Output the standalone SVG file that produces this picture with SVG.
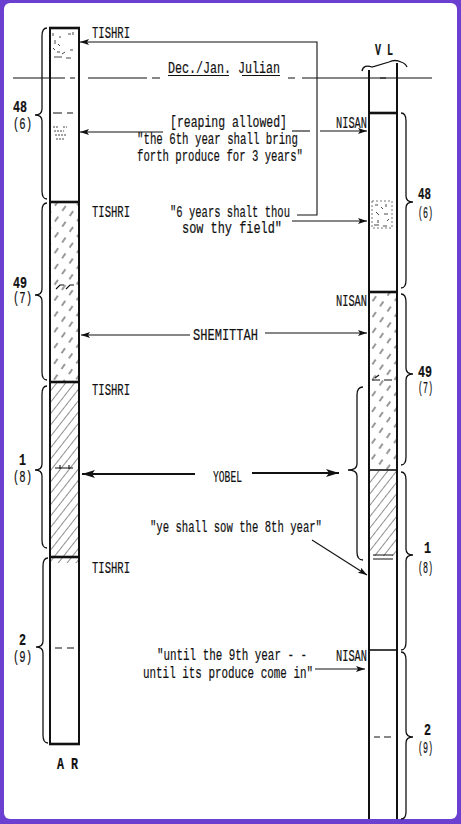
<svg xmlns="http://www.w3.org/2000/svg" width="461" height="824" viewBox="0 0 461 824">
<style>
  .t{font-family:"Liberation Mono","DejaVu Sans Mono",monospace;font-size:16px;fill:#111;stroke:#111;stroke-width:0.2}
  .b{font-weight:bold}
  .col{fill:none;stroke:#111;stroke-width:2}
  .div{stroke:#111;stroke-width:2.6}
  .divm{stroke:#111;stroke-width:1.6}
  .br{fill:none;stroke:#111;stroke-width:1.3}
  .ln{fill:none;stroke:#111;stroke-width:1.1}
  .bold{fill:none;stroke:#111;stroke-width:2}
  .sp{stroke:#333;stroke-width:0.9;fill:none}
</style>
<defs>
  <pattern id="hatch" patternUnits="userSpaceOnUse" width="7" height="10" patternTransform="rotate(38)">
    <line x1="0" y1="0" x2="0" y2="10" stroke="#222" stroke-width="1"/>
  </pattern>
  <pattern id="dhatch" patternUnits="userSpaceOnUse" width="9" height="13" patternTransform="rotate(35)">
    <line x1="1" y1="1" x2="1" y2="7" stroke="#333" stroke-width="1"/>
  </pattern>
  <marker id="ah" markerWidth="9" markerHeight="6" refX="9" refY="3" orient="auto" markerUnits="userSpaceOnUse">
    <path d="M0,0 L9,3 L0,6 L2,3 z" fill="#111"/>
  </marker>
  <marker id="ahb" markerWidth="13" markerHeight="8" refX="13" refY="4" orient="auto" markerUnits="userSpaceOnUse">
    <path d="M0,0 L13,4 L0,8 L3,4 z" fill="#111"/>
  </marker>
</defs>

<rect x="0" y="0" width="461" height="824" fill="#6b3fcf"/>
<rect x="4" y="3" width="453" height="816" rx="6" fill="#ffffff"/>

<!-- Julian Dec/Jan line -->
<g id="julian-line">
  <path class="ln" d="M13,78 H65 M70,78 H75 M88,78 H147 M152,78 H160 M288,78 H295 M302,78 H432"/>
  <text class="t" x="168" y="73" textLength="112" lengthAdjust="spacingAndGlyphs">Dec./Jan. Julian</text>
  <path class="ln" d="M168,75.5 H229 M242,75.5 H280"/>
</g>

<!-- AR column -->
<g id="ar-column">
  <rect x="50" y="203" width="28" height="179" fill="url(#dhatch)"/>
  <rect x="50" y="383" width="28" height="173" fill="url(#hatch)"/>
  <rect x="50" y="557" width="28" height="6" fill="url(#hatch)"/>
  <g class="sp">
    <path d="M53,33 v3 M55,40 v4 M53,48 l2,2 M57,52 h3 M54,57 h8 M62,54 l3,-2 M68,34 h3 M73,32 v3 M66,58 h5 M58,44 l2,2 M70,50 h3 M60,36 v2"/>
    <path d="M53,127 h6 M54,131 h10 M55,135 h12 M56,139 h8 M63,127 h4" stroke-dasharray="2 1"/>
  </g>
  <path class="ln" d="M53,113 H62 M67,113 H73"/>
  <path class="ln" d="M56,289 l4,-4 h4 M66,289 l4,-4 h4"/>
  <path class="ln" d="M55,468 H73 M60,465 v4 M69,465 v4"/>
  <path class="ln" d="M55,648 H62 M67,648 H74"/>
  <rect class="col" x="50" y="28" width="29" height="716"/>
  <line class="div" x1="49" y1="28" x2="80" y2="28"/>
  <line class="div" x1="49" y1="202" x2="80" y2="202"/>
  <line class="div" x1="49" y1="382" x2="80" y2="382"/>
  <line class="div" x1="49" y1="557" x2="80" y2="557"/>
  <line class="div" x1="49" y1="744" x2="80" y2="744"/>
  <text class="t b" x="57" y="769" textLength="21" lengthAdjust="spacingAndGlyphs">A R</text>
</g>

<!-- VL column -->
<g id="vl-column">
  <rect x="370" y="293" width="26" height="177" fill="url(#dhatch)"/>
  <rect x="370" y="471" width="26" height="85" fill="url(#hatch)"/>
  <rect x="372" y="201" width="20" height="27" fill="none" stroke="#555" stroke-width="0.8" stroke-dasharray="2 2"/>
  <g class="sp">
    <path d="M375,205 h3 M381,207 l2,2 M386,204 v3 M376,212 l3,3 M384,214 h4 M378,220 v3 M387,221 l2,-2 M374,225 h5 M383,226 h4"/>
  </g>
  <path class="ln" d="M372,380 H380 M384,380 H392 M375,378 l4,-3"/>
  <path class="ln" d="M373,555 H393 M373,559 H393"/>
  <path class="ln" d="M374,737 H380 M384,737 H391"/>
  <path class="ln" d="M380,78 h6"/>
  <line class="col" x1="369" y1="70" x2="369" y2="819"/>
  <line class="col" x1="397" y1="63" x2="397" y2="819"/>
  <line class="div" x1="368" y1="113" x2="398" y2="113"/>
  <line class="div" x1="368" y1="292" x2="398" y2="292"/>
  <line class="divm" x1="368" y1="470" x2="398" y2="470"/>
  <line class="divm" x1="368" y1="650" x2="398" y2="650"/>
  <path class="br" stroke-width="1.6" d="M362,71 C363,66 367,65 372,67 L389,62 C393,60 397,60 401,62 C404,63 406,64 407,67"/>
  <text class="t b" x="375" y="55" textLength="18" lengthAdjust="spacingAndGlyphs">V L</text>
</g>

<!-- Left braces and numbers -->
<g id="ar-year-48">
  <path class="br" d="M47,28 Q42,28 42,36 L42,109 Q42,115 35,115 Q42,115 42,121 L42,191 Q42,199 47,199"/>
  <text class="t b" x="13" y="112" textLength="14" lengthAdjust="spacingAndGlyphs">48</text>
  <text class="t" x="13" y="129" textLength="19" lengthAdjust="spacingAndGlyphs">(6)</text>
</g>
<g id="ar-year-49">
  <path class="br" d="M47,203 Q42,203 42,211 L42,289 Q42,295 35,295 Q42,295 42,301 L42,372 Q42,380 47,380"/>
  <text class="t b" x="13" y="288" textLength="14" lengthAdjust="spacingAndGlyphs">49</text>
  <text class="t" x="13" y="303" textLength="19" lengthAdjust="spacingAndGlyphs">(7)</text>
</g>
<g id="ar-year-1">
  <path class="br" d="M47,386 Q42,386 42,394 L42,464 Q42,470 35,470 Q42,470 42,476 L42,540 Q42,548 47,548"/>
  <text class="t b" x="19" y="465" textLength="7" lengthAdjust="spacingAndGlyphs">1</text>
  <text class="t" x="13" y="482" textLength="19" lengthAdjust="spacingAndGlyphs">(8)</text>
</g>
<g id="ar-year-2">
  <path class="br" d="M48,558 Q43,558 43,566 L43,641 Q43,647 36,647 Q43,647 43,653 L43,735 Q43,743 48,743"/>
  <text class="t b" x="19" y="645" textLength="7" lengthAdjust="spacingAndGlyphs">2</text>
  <text class="t" x="13" y="662" textLength="19" lengthAdjust="spacingAndGlyphs">(9)</text>
</g>

<!-- Right braces and numbers -->
<g id="vl-year-48">
  <path class="br" d="M401,113 Q406,113 406,121 L406,196 Q406,202 413,202 Q406,202 406,208 L406,280 Q406,288 401,288"/>
  <text class="t b" x="418" y="199" textLength="13" lengthAdjust="spacingAndGlyphs">48</text>
  <text class="t" x="418" y="218" textLength="15" lengthAdjust="spacingAndGlyphs">(6)</text>
</g>
<g id="vl-year-49">
  <path class="br" d="M401,294 Q406,294 406,302 L406,368 Q406,374 413,374 Q406,374 406,380 L406,457 Q406,465 401,465"/>
  <text class="t b" x="418" y="377" textLength="14" lengthAdjust="spacingAndGlyphs">49</text>
  <text class="t" x="418" y="393" textLength="15" lengthAdjust="spacingAndGlyphs">(7)</text>
</g>
<g id="vl-year-1">
  <path class="br" d="M401,472 Q406,472 406,480 L406,549 Q406,555 413,555 Q406,555 406,561 L406,642 Q406,650 401,650"/>
  <text class="t b" x="424" y="553" textLength="7" lengthAdjust="spacingAndGlyphs">1</text>
  <text class="t" x="418" y="573" textLength="15" lengthAdjust="spacingAndGlyphs">(8)</text>
</g>
<g id="vl-year-2">
  <path class="br" d="M401,652 Q406,652 406,660 L406,731 Q406,737 413,737 Q406,737 406,743 L406,812 Q406,819 401,819"/>
  <text class="t b" x="424" y="735" textLength="7" lengthAdjust="spacingAndGlyphs">2</text>
  <text class="t" x="418" y="753" textLength="15" lengthAdjust="spacingAndGlyphs">(9)</text>
</g>
<g id="yobel-brace">
  <path class="br" stroke-width="2" d="M363,387 Q357,387 357,395 L357,464 Q357,470 348,470 Q357,470 357,476 L357,552 Q357,560 363,560"/>
</g>

<!-- Labels -->
<g id="labels">
  <text class="t" x="92" y="38" textLength="38" lengthAdjust="spacingAndGlyphs">TISHRI</text>
  <text class="t" x="92" y="217" textLength="38" lengthAdjust="spacingAndGlyphs">TISHRI</text>
  <text class="t" x="92" y="395" textLength="38" lengthAdjust="spacingAndGlyphs">TISHRI</text>
  <text class="t" x="92" y="573" textLength="38" lengthAdjust="spacingAndGlyphs">TISHRI</text>
  <text class="t" x="336" y="128" textLength="31" lengthAdjust="spacingAndGlyphs">NISAN</text>
  <text class="t" x="336" y="306" textLength="31" lengthAdjust="spacingAndGlyphs">NISAN</text>
  <text class="t" x="336" y="661" textLength="31" lengthAdjust="spacingAndGlyphs">NISAN</text>
  <text class="t" x="170" y="127" textLength="117" lengthAdjust="spacingAndGlyphs">[reaping allowed]</text>
  <text class="t" x="137" y="144" textLength="161" lengthAdjust="spacingAndGlyphs">"the 6th year shall bring</text>
  <text class="t" x="137" y="161" textLength="166" lengthAdjust="spacingAndGlyphs">forth produce for 3 years"</text>
  <text class="t" x="170" y="217" textLength="120" lengthAdjust="spacingAndGlyphs">"6 years shalt thou</text>
  <text class="t" x="182" y="233" textLength="100" lengthAdjust="spacingAndGlyphs">sow thy field"</text>
  <text class="t" x="193" y="340" textLength="65" lengthAdjust="spacingAndGlyphs">SHEMITTAH</text>
  <text class="t" x="213" y="482" textLength="29" lengthAdjust="spacingAndGlyphs">YOBEL</text>
  <text class="t" x="150" y="532" textLength="172" lengthAdjust="spacingAndGlyphs">"ye shall sow the 8th year"</text>
  <text class="t" x="157" y="660" textLength="150" lengthAdjust="spacingAndGlyphs">"until the 9th year - -</text>
  <text class="t" x="143" y="678" textLength="170" lengthAdjust="spacingAndGlyphs">until its produce come in"</text>
</g>

<!-- Connectors -->
<g id="connectors">
  <path class="ln" d="M297,215 H317 V42 H80" marker-end="url(#ah)"/>
  <path class="ln" d="M163,132 H80" marker-end="url(#ah)"/>
  <path class="ln" d="M292,131 H310"/>
  <path class="ln" d="M320,131 H367" marker-end="url(#ah)"/>
  <path class="ln" d="M292,221 H367" marker-end="url(#ah)"/>
  <path class="ln" d="M190,335 H81" marker-end="url(#ah)"/>
  <path class="ln" d="M265,333 H367" marker-end="url(#ah)"/>
  <path class="bold" d="M195,474 H82" marker-end="url(#ahb)"/>
  <path class="bold" d="M252,473 H339" marker-end="url(#ahb)"/>
  <path class="ln" d="M312,540 L367,575" marker-end="url(#ah)"/>
  <path class="ln" d="M315,669 H365" marker-end="url(#ah)"/>
</g>
</svg>
